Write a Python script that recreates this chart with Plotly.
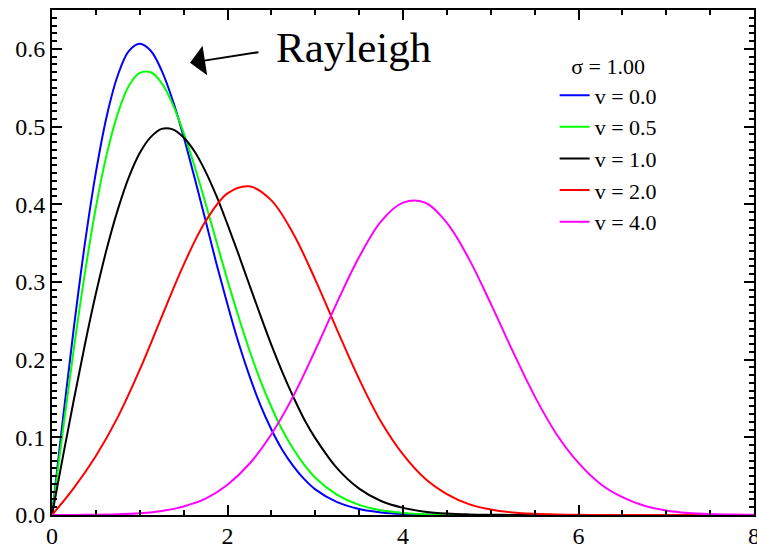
import plotly.graph_objects as go

# fine grid for the three left-hand curves, coarse grid for the others
x_fine = [0.0, 0.125, 0.25, 0.375, 0.5, 0.625, 0.75, 0.875, 1.0, 1.125, 1.25, 1.375, 1.5,
          1.625, 1.75, 1.875, 2.0, 2.125, 2.25, 2.375, 2.5, 2.625, 2.75, 2.875, 3.0,
          3.25, 3.5, 3.75, 4.0, 4.25, 4.5, 4.75, 5.0, 5.25, 5.5, 5.75, 6.0,
          6.25, 6.5, 6.75, 7.0, 7.25, 7.5, 7.75, 8.0]
x_coarse = [0.0, 0.25, 0.5, 0.75, 1.0, 1.25, 1.5, 1.75, 2.0, 2.25, 2.5, 2.75, 3.0,
            3.25, 3.5, 3.75, 4.0, 4.25, 4.5, 4.75, 5.0, 5.25, 5.5, 5.75, 6.0,
            6.25, 6.5, 6.75, 7.0, 7.25, 7.5, 7.75, 8.0]

v00 = [0.0, 0.124, 0.242, 0.3495, 0.441, 0.514, 0.566, 0.597, 0.6065, 0.5975, 0.572, 0.534, 0.487,
       0.434, 0.379, 0.323, 0.271, 0.222, 0.179, 0.1415, 0.110, 0.0837, 0.063, 0.0461, 0.033,
       0.0165, 0.0077, 0.0033, 0.0013, 0.0005, 0.0002, 0.0001, 0.0, 0.0, 0.0, 0.0, 0.0,
       0.0, 0.0, 0.0, 0.0, 0.0, 0.0, 0.0, 0.0]
v05 = [0.0, 0.1096, 0.215, 0.3112, 0.396, 0.4648, 0.517, 0.5521, 0.569, 0.5698, 0.556, 0.5289, 0.492,
       0.4489, 0.401, 0.3516, 0.302, 0.2555, 0.212, 0.173, 0.139, 0.1093, 0.085, 0.0646, 0.048,
       0.026, 0.013, 0.0061, 0.0027, 0.0011, 0.0004, 0.0001, 0.0, 0.0, 0.0, 0.0, 0.0,
       0.0, 0.0, 0.0, 0.0, 0.0, 0.0, 0.0, 0.0]
v10 = [0.0, 0.0755, 0.149, 0.2195, 0.285, 0.343, 0.393, 0.4346, 0.466, 0.4864, 0.497, 0.4964, 0.486,
       0.4679, 0.442, 0.4103, 0.374, 0.3357, 0.296, 0.2569, 0.219, 0.1839, 0.152, 0.123, 0.099,
       0.060, 0.034, 0.018, 0.0092, 0.0043, 0.0019, 0.0008, 0.0003, 0.0001, 0.0, 0.0, 0.0,
       0.0, 0.0, 0.0, 0.0, 0.0, 0.0, 0.0, 0.0]
v20 = [0.0, 0.035, 0.076, 0.126, 0.187, 0.255, 0.322, 0.378, 0.414, 0.423, 0.405, 0.362, 0.303,
       0.238, 0.175, 0.120, 0.078, 0.047, 0.027, 0.014, 0.0071, 0.0033, 0.0015, 0.0006, 0.0002,
       0.0001, 0.0, 0.0, 0.0, 0.0, 0.0, 0.0, 0.0]
v40 = [0.0, 0.0001, 0.0003, 0.0009, 0.0023, 0.0052, 0.011, 0.021, 0.039, 0.066, 0.104, 0.153, 0.212,
       0.274, 0.332, 0.378, 0.402, 0.402, 0.376, 0.330, 0.272, 0.211, 0.153, 0.104, 0.067,
       0.040, 0.023, 0.012, 0.0059, 0.0027, 0.0012, 0.0005, 0.0002]

series_names = ["v = 0.0", "v = 0.5", "v = 1.0", "v = 2.0", "v = 4.0"]
series_x = [x_fine, x_fine, x_fine, x_coarse, x_coarse]
series_vals = [v00, v05, v10, v20, v40]
series_colors = ["#0000ff", "#00ff00", "#000000", "#ff0000", "#ff00ff"]

x_ticks = [0, 2, 4, 6, 8]
y_ticks = [0.0, 0.1, 0.2, 0.3, 0.4, 0.5, 0.6]
y_ticklabels = ["0.0", "0.1", "0.2", "0.3", "0.4", "0.5", "0.6"]

FONT = "Liberation Serif, Times New Roman, serif"

fig = go.Figure()
for name, xs, vals, col in zip(series_names, series_x, series_vals, series_colors):
    fig.add_trace(go.Scatter(x=xs, y=vals, mode="lines", name=name,
                             line=dict(color=col, width=2, shape="spline", smoothing=1.0)))

fig.update_layout(
    width=757, height=550,
    margin=dict(l=52, r=3, t=10, b=35, autoexpand=False),
    paper_bgcolor="white", plot_bgcolor="white",
    font=dict(family=FONT, size=22, color="black"),
    showlegend=True,
    legend=dict(
        x=0.716, y=0.929, xanchor="left", yanchor="top",
        bgcolor="rgba(0,0,0,0)", borderwidth=0,
        font=dict(family=FONT, size=22, color="black"),
        title=dict(text="σ = 1.00", side="top center", font=dict(family=FONT, size=22)),
        itemwidth=30, tracegroupgap=0,
    ),
)

fig.update_xaxes(
    range=[0, 8], tickvals=x_ticks, ticktext=[str(t) for t in x_ticks],
    ticks="inside", ticklen=10, tickwidth=1.5, tickcolor="black",
    showline=True, linecolor="black", linewidth=2, mirror="allticks",
    showgrid=False, zeroline=False, automargin=False,
    ticklabeloverflow="allow", ticklabelstandoff=-2,
    minor=dict(dtick=0.5, tick0=0, ticks="inside", ticklen=5, tickwidth=1.5, tickcolor="black", showgrid=False),
    tickfont=dict(family=FONT, size=24),
)
fig.update_yaxes(
    range=[0, 0.65], tickvals=y_ticks, ticktext=y_ticklabels,
    ticks="inside", ticklen=10, tickwidth=1.5, tickcolor="black",
    showline=True, linecolor="black", linewidth=2, mirror="allticks",
    showgrid=False, zeroline=False, automargin=False,
    ticklabeloverflow="allow",
    minor=dict(dtick=0.01, tick0=0, ticks="inside", ticklen=5, tickwidth=1.5, tickcolor="black", showgrid=False),
    tickfont=dict(family=FONT, size=24),
)

# Rayleigh label and arrow
fig.add_annotation(x=1.573, y=0.582, ax=2.37, ay=0.596, xref="x", yref="y", axref="x", ayref="y",
                   text="", showarrow=True, arrowhead=1, arrowsize=2.5, arrowwidth=2, arrowcolor="black")
fig.add_annotation(x=2.53, y=0.602, xref="x", yref="y", text="Rayleigh", showarrow=False,
                   xanchor="left", yanchor="middle", font=dict(family=FONT, size=43, color="black"))

# remove the default 8px page margin so the 757x550 figure fills the window exactly
fig.write_html("out.html",
               config={"displayModeBar": False},
               post_script="document.body.style.margin='0';document.body.style.overflow='hidden';")
